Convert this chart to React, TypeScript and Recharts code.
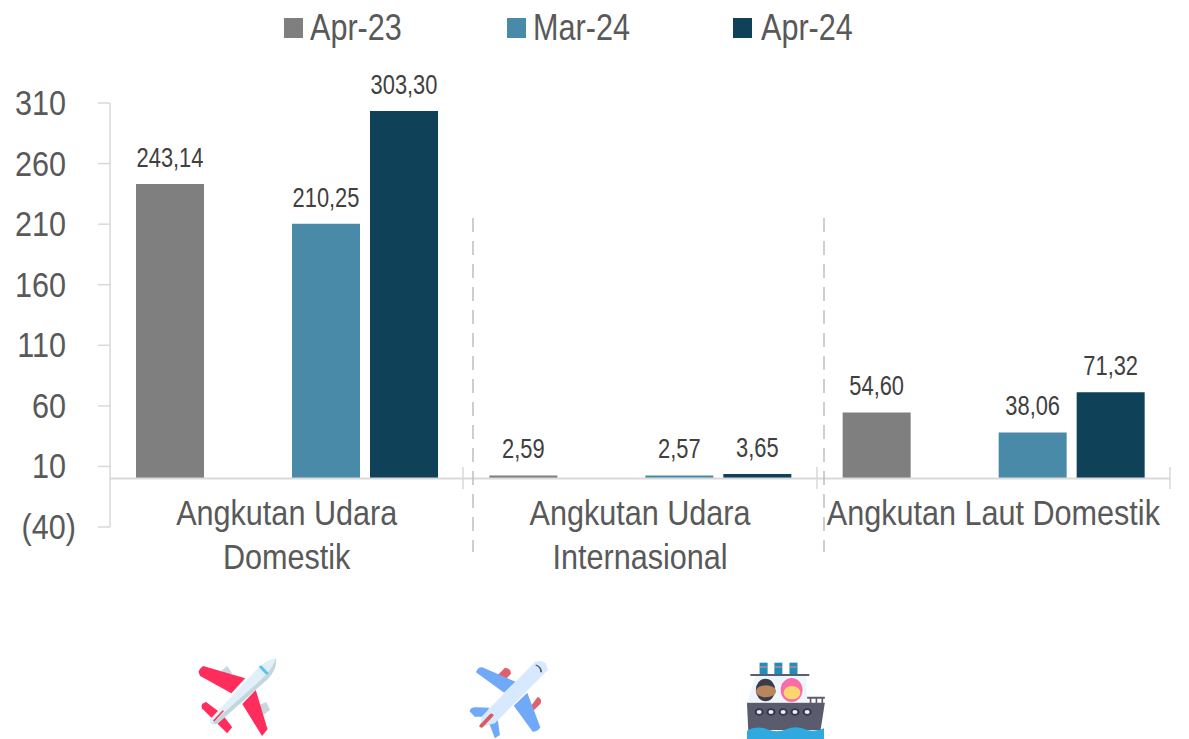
import { Bar, BarChart, LabelList, ReferenceLine, XAxis, YAxis } from "recharts";

const categories = ["Angkutan Udara\nDomestik", "Angkutan Udara\nInternasional", "Angkutan Laut Domestik"];
const apr23 = [243.14, 2.59, 54.6];
const mar24 = [210.25, 2.57, 38.06];
const apr24 = [303.3, 3.65, 71.32];
const yTicks = [310, 260, 210, 160, 110, 60, 10, -40];

const data = categories.map((name, i) => ({
  name,
  apr23: apr23[i],
  gap: null,
  mar24: mar24[i],
  apr24: apr24[i],
}));

// no narrow font installed, so Liberation Sans gets squeezed horizontally
const FONT = '"Liberation Sans", sans-serif';
const NARROW = 0.85;

const legendItems = [
  { label: "Apr-23", color: "#7f7f7f", x: 284, textX: 310 },
  { label: "Mar-24", color: "#4a8aa9", x: 507, textX: 533 },
  { label: "Apr-24", color: "#0f4159", x: 733, textX: 761 },
];

const formatValue = (v: any) => (v == null ? "" : Number(v).toFixed(2).replace(".", ","));

function ValueLabel({ x, y, width, value }: any) {
  if (value == null) return null;
  const cx = x + width / 2;
  return (
    <text
      transform={`translate(${cx} ${y - 17}) scale(0.81 1)`}
      textAnchor="middle"
      fontFamily={FONT}
      fontSize={27}
      fill="#404040"
    >
      {formatValue(value)}
    </text>
  );
}

function YTick({ y, payload }: any) {
  const v = payload.value;
  return (
    <text
      transform={`translate(${v < 0 ? 76 : 66} ${y + 12}) scale(${NARROW} 1)`}
      textAnchor="end"
      fontFamily={FONT}
      fontSize={36}
      fill="#595959"
    >
      {v < 0 ? `(${Math.abs(v)})` : v}
    </text>
  );
}

function CategoryTick({ x, y, payload }: any) {
  const lines = String(payload.value).split("\n");
  return (
    <g>
      {lines.map((line, i) => (
        <text
          key={line}
          transform={`translate(${x} ${y - 10 + i * 44}) scale(${NARROW} 1)`}
          textAnchor="middle"
          fontFamily={FONT}
          fontSize={36}
          fill="#595959"
        >
          {line}
        </text>
      ))}
    </g>
  );
}

function LegendRow() {
  return (
    <div style={{ position: "absolute", left: 0, top: 0, width: 1189, height: 56 }}>
      {legendItems.map((item) => (
        <div key={item.label}>
          <div
            style={{
              position: "absolute",
              left: item.x,
              top: 18,
              width: 19,
              height: 20,
              background: item.color,
            }}
          />
          <div
            style={{
              position: "absolute",
              left: item.textX,
              top: 8,
              fontFamily: FONT,
              fontSize: 36,
              lineHeight: "40px",
              color: "#595959",
              transform: `scaleX(${NARROW})`,
              transformOrigin: "left center",
            }}
          >
            {item.label}
          </div>
        </div>
      ))}
    </div>
  );
}

function Dividers() {
  return (
    <svg width={1189} height={739} style={{ position: "absolute", left: 0, top: 0, pointerEvents: "none" }}>
      <line x1={473} x2={473} y1={218} y2={552} stroke="#bfbfbf" strokeWidth={1.5} strokeDasharray="14 9" />
      <line x1={824} x2={824} y1={218} y2={552} stroke="#bfbfbf" strokeWidth={1.5} strokeDasharray="14 9" />
      {[463, 817, 1170].map((x) => (
        <line key={x} x1={x} x2={x} y1={467} y2={489} stroke="#d9d9d9" strokeWidth={1.5} />
      ))}
    </svg>
  );
}

function Icons() {
  return (
    <svg
      width={660}
      height={99}
      viewBox="0 0 1568 297"
      preserveAspectRatio="none"
      style={{ position: "absolute", left: 180, top: 640 }}
    >
      {/* red plane */}
      <path d="M98 92 L112 78 L124 100 L110 110 Z" fill="#c9d8de" />
      <path d="M188 195 L205 186 L214 210 L198 226 Z" fill="#c9d8de" />
      <path d="M55 78 L155 115 L122 160 L48 108 Q38 92 55 78 Z" fill="#ff2d5c" />
      <path d="M148 192 L180 150 L208 268 L195 288 Z" fill="#ff2d5c" />
      <path d="M62 186 L100 222 L124 262 L112 280 L52 205 Q48 190 62 186 Z" fill="#ff2d5c" />
      <path d="M70 240 L185 85 Q210 55 228 55 Q232 85 208 118 L88 252 Q72 258 70 240 Z" fill="#e1f0f8" />
      <path d="M88 252 L208 118 Q232 85 228 55 Q222 85 190 122 L76 250 Z" fill="#c4d5dc" />
      <line x1={190} y1={78} x2={208} y2={102} stroke="#5cc4ee" strokeWidth={8} />
      <line x1={80} y1={243} x2={103} y2={212} stroke="#e8425f" strokeWidth={4} />
      {/* blue plane */}
      <path d="M755 105 L772 83 Q787 85 786 102 L772 120 Z" fill="#e0606e" />
      <path d="M830 205 L850 170 Q862 178 856 192 L838 214 Z" fill="#e0606e" />
      <path d="M703 97 Q708 80 718 82 L797 125 L770 158 Z" fill="#6fa9f7" />
      <path d="M793 197 L825 158 L856 262 Q850 276 838 275 Z" fill="#6fa9f7" />
      <path d="M688 214 Q690 200 705 202 L735 203 L722 230 L700 230 Z" fill="#6fa9f7" />
      <path d="M733 245 L754 232 L760 285 L748 295 Z" fill="#6fa9f7" />
      <path d="M712 262 L718 228 L843 66 Q870 54 874 90 L748 250 Z" fill="#d6e9ff" />
      <line x1={716} y1={258} x2={740} y2={226} stroke="#dc5a60" strokeWidth={10} strokeLinecap="round" />
      <path d="M845 75 Q858 80 858 97" fill="none" stroke="#555566" strokeWidth={4} />
      {/* ship */}
      {[1377, 1412, 1448].map((x) => (
        <g key={x}>
          <rect x={x} y={68} width={19} height={36} fill="#1e8fb6" />
          <rect x={x} y={79} width={19} height={4} fill="#e77aa6" />
        </g>
      ))}
      <path d="M1368 106 L1488 106 L1490 185 L1348 185 Z" fill="#eef6fb" />
      <rect x={1355} y={102} width={140} height={6} fill="#5c5e70" />
      <ellipse cx={1391} cy={150} rx={23} ry={34} fill="#3b3b4a" />
      <ellipse cx={1392} cy={154} rx={24} ry={18} fill="#b9855a" />
      <ellipse cx={1453} cy={150} rx={26} ry={36} fill="#f76da8" />
      <ellipse cx={1454} cy={158} rx={20} ry={20} fill="#fbd66f" />
      <path d="M1490 170 H1532 V176 H1490 Z M1496 176 H1500 V190 H1496 Z M1510 176 H1514 V190 H1510 Z M1524 176 H1528 V190 H1524 Z" fill="#5c5e70" />
      <path d="M1347 188 H1532 L1522 270 H1350 Z" fill="#5a5b6c" />
      {[1376, 1404, 1433, 1461, 1490].map((x) => (
        <g key={x}>
          <circle cx={x} cy={216} r={11} fill="#36364a" />
          <circle cx={x} cy={216} r={6} fill="#e8eef2" />
        </g>
      ))}
      <path d="M1347 272 Q1370 255 1395 268 Q1420 280 1440 268 Q1465 255 1490 270 Q1510 276 1530 265 V297 H1347 Z" fill="#2fa9e0" />
    </svg>
  );
}

export default function App() {
  return (
    <div style={{ position: "absolute", left: 0, top: 0, width: 1189, height: 739, background: "#fff" }}>
      <BarChart
        width={1189}
        height={739}
        data={data}
        margin={{ top: 103, right: 19, bottom: 211, left: 0 }}
        barSize={68}
        barGap={10}
        barCategoryGap={25}
      >
        <YAxis
          width={110}
          domain={[-40, 310]}
          ticks={yTicks}
          interval={0}
          tick={<YTick />}
          tickSize={12}
          axisLine={{ stroke: "#d9d9d9", strokeWidth: 1.5 }}
          tickLine={{ stroke: "#d9d9d9", strokeWidth: 1.5 }}
        />
        <XAxis dataKey="name" height={1} axisLine={false} tickLine={false} interval={0} tick={<CategoryTick />} />
        <ReferenceLine y={0} stroke="#d9d9d9" strokeWidth={2} />
        <Bar dataKey="apr23" fill="#7f7f7f" isAnimationActive={false}>
          <LabelList dataKey="apr23" content={<ValueLabel />} />
        </Bar>
        <Bar dataKey="gap" isAnimationActive={false} />
        <Bar dataKey="mar24" fill="#4a8aa9" isAnimationActive={false}>
          <LabelList dataKey="mar24" content={<ValueLabel />} />
        </Bar>
        <Bar dataKey="apr24" fill="#0f4159" isAnimationActive={false}>
          <LabelList dataKey="apr24" content={<ValueLabel />} />
        </Bar>
      </BarChart>
      <LegendRow />
      <Dividers />
      <Icons />
    </div>
  );
}
